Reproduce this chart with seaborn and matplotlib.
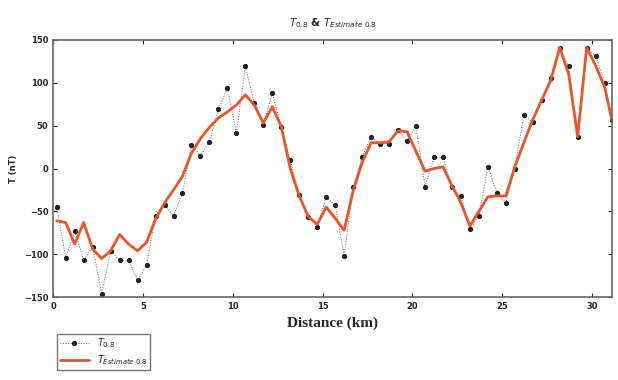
import numpy as np
import pandas as pd
import seaborn as sns
import matplotlib
matplotlib.use("Agg")
import matplotlib.pyplot as plt

# distance along profile (km)
distance = [0.2, 0.7, 1.2, 1.7, 2.2, 2.7, 3.2, 3.7, 4.2, 4.7,
            5.2, 5.7, 6.2, 6.7, 7.2, 7.7, 8.2, 8.7, 9.2, 9.7,
            10.2, 10.7, 11.2, 11.7, 12.2, 12.7, 13.2, 13.7, 14.2, 14.7,
            15.2, 15.7, 16.2, 16.7, 17.2, 17.7, 18.2, 18.7, 19.2, 19.7,
            20.2, 20.7, 21.2, 21.7, 22.2, 22.7, 23.2, 23.7, 24.2, 24.7,
            25.2, 25.7, 26.2, 26.7, 27.2, 27.7, 28.2, 28.7, 29.2, 29.7,
            30.2, 30.7, 31.1]

# observed T at 0.8
t_obs = [-45, -104, -73, -107, -91, -146, -96, -107, -107, -130,
         -113, -55, -42, -55, -29, 28, 15, 31, 69, 94,
         41, 119, 76, 51, 88, 49, 10, -31, -56, -68,
         -33, -43, -102, -22, 14, 37, 29, 29, 45, 32,
         50, -21, 13, 13, -22, -32, -71, -55, 2, -28,
         -40, 0, 62, 54, 80, 105, 141, 119, 37, 141,
         131, 100, 57]

# estimated T at 0.8
t_est = [-61, -63, -88, -63, -94, -105, -96, -77, -88, -96,
         -86, -59, -40, -25, -9, 18, 35, 48, 59, 66,
         74, 86, 74, 53, 72, 49, 0, -32, -56, -65,
         -45, -58, -72, -26, 7, 30, 30, 31, 44, 43,
         20, -3, 0, 2, -20, -40, -67, -50, -33, -32,
         -32, 2, 30, 57, 80, 103, 141, 110, 37, 141,
         120, 95, 57]

df = pd.DataFrame({"distance": distance, "obs": t_obs, "est": t_est})

sns.set_style("ticks")
plt.rcParams["font.family"] = ["DejaVu Sans"]

fig = plt.figure(figsize=(6.18, 3.80), dpi=100)
ax = fig.add_axes([0.086, 0.218, 0.904, 0.677])

sns.lineplot(data=df, x="distance", y="obs", ax=ax, color="#666666",
             linewidth=0.7, linestyle=":", marker="o", markersize=3,
             markerfacecolor="#222222", markeredgecolor="#222222",
             label=r"$T_{0.8}$")
sns.lineplot(data=df, x="distance", y="est", ax=ax, color="#e8552a",
             linewidth=2.0, label=r"$T_{Estimate\ 0.8}$")

ax.set_xlim(0, 31.1)
ax.set_ylim(-150, 150)
ax.set_xticks([0, 5, 10, 15, 20, 25, 30])
ax.set_yticks([-150, -100, -50, 0, 50, 100, 150])
ax.tick_params(direction="in", top=True, right=True, length=3, labelsize=6)
for lab in ax.get_xticklabels() + ax.get_yticklabels():
    lab.set_fontweight("bold")
for s in ax.spines.values():
    s.set_color("#666666")
    s.set_linewidth(1.2)

ax.set_xlabel("Distance (km)", family="Liberation Serif", fontsize=11,
              fontweight="bold", labelpad=4)
ax.set_ylabel("T (nT)", fontsize=6, fontweight="bold", labelpad=4)
ax.set_title(r"$T_{0.8}$ & $T_{Estimate\ 0.8}$", fontsize=7.5,
             fontweight="bold", pad=10)

ax.legend(loc="upper left", bbox_to_anchor=(0.084, 0.135),
          bbox_transform=fig.transFigure, fontsize=7, frameon=True,
          fancybox=False, edgecolor="#555555", handlelength=3,
          borderpad=0.3, labelspacing=0.3)

fig.savefig("out.png", dpi=100)
